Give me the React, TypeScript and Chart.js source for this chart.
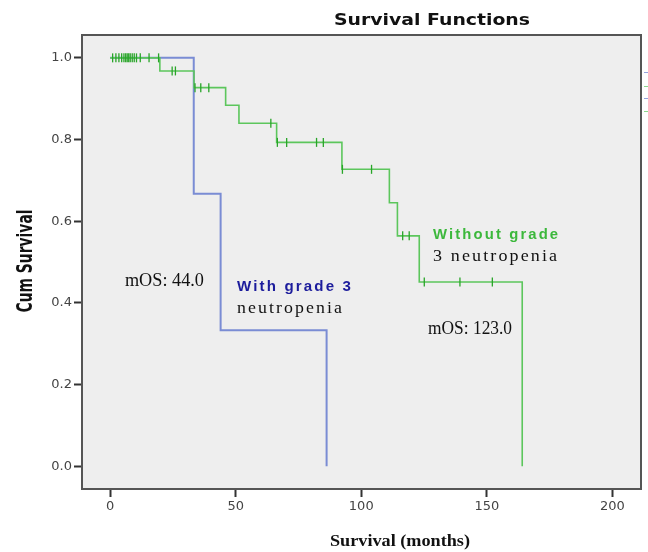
import React, { useEffect, useRef } from "react";
import { Chart, registerables } from "chart.js";

Chart.register(...registerables);

// Kaplan-Meier step data (time in months, cumulative survival after the event)
const blueTimes = [0, 33.3, 44.0, 86.2];
const blueSurv = [1.0, 0.667, 0.333, 0.0];

const greenTimes = [0, 19.8, 33.4, 46.0, 51.3, 66.3, 92.3, 111.2, 114.4, 123.1, 164.1];
const greenSurv = [1.0, 0.968, 0.927, 0.884, 0.84, 0.793, 0.727, 0.645, 0.564, 0.451, 0.0];

// Censored observation times (green group)
const greenCensored = [
  1.0, 2.3, 3.5, 4.6, 5.5, 6.2, 6.8, 7.4, 8.0, 8.8, 9.6, 10.5, 12.0, 15.5, 19.3,
  24.7, 26.0, 33.8, 36.1, 39.3, 64.0, 66.6, 70.3, 82.2, 84.9, 92.5, 104.1,
  116.5, 119.1, 125.1, 139.3, 152.2,
];

const xTicks = [0, 50, 100, 150, 200];
const yTicks = [0.0, 0.2, 0.4, 0.6, 0.8, 1.0];

const chartTitle = "Survival Functions";
const xTitle = "Survival (months)";
const yTitle = "Cum Survival";

function survAt(times: number[], surv: number[], t: number) {
  let s = surv[0];
  for (let i = 0; i < times.length; i++) if (times[i] <= t) s = surv[i];
  return s;
}

function drawFit(
  ctx: CanvasRenderingContext2D,
  text: string,
  x: number,
  y: number,
  width: number,
  font: string,
  color: string,
  align: "left" | "center",
  spacing = 0,
  rotate = 0
) {
  ctx.save();
  ctx.font = font;
  ctx.fillStyle = color;
  (ctx as any).letterSpacing = spacing + "px";
  ctx.textBaseline = "middle";
  ctx.textAlign = align;
  const w = ctx.measureText(text).width - spacing;
  ctx.translate(x, y);
  if (rotate) ctx.rotate(rotate);
  ctx.scale(width / w, 1);
  ctx.fillText(text, 0, 0);
  ctx.restore();
}

const decor = {
  id: "decor",
  beforeDraw(chart: any) {
    const { ctx, chartArea: a } = chart;
    ctx.save();
    ctx.fillStyle = "#ffffff";
    ctx.fillRect(0, 0, chart.width, chart.height);
    ctx.fillStyle = "#eeeeee";
    ctx.fillRect(a.left, a.top, a.right - a.left, a.bottom - a.top);
    ctx.restore();
  },
  afterDraw(chart: any) {
    const { ctx, chartArea: a } = chart;
    const xs = chart.scales.x;
    const ys = chart.scales.y;
    ctx.save();
    ctx.strokeStyle = "#555555";
    ctx.lineWidth = 2;
    ctx.strokeRect(a.left, a.top, a.right - a.left, a.bottom - a.top);
    ctx.restore();

    // clipped legend stubs at right edge
    const stubs: [number, string][] = [
      [72, "rgba(122,140,212,0.8)"],
      [86, "rgba(92,198,92,0.7)"],
      [98, "rgba(122,140,212,0.8)"],
      [111, "rgba(92,198,92,0.7)"],
    ];
    ctx.save();
    ctx.lineWidth = 1;
    stubs.forEach(([yy, c]) => {
      ctx.strokeStyle = c;
      ctx.beginPath();
      ctx.moveTo(a.right + 3, yy + 0.5);
      ctx.lineTo(chart.width, yy + 0.5);
      ctx.stroke();
    });
    ctx.restore();

    drawFit(ctx, chartTitle, 432, 21, 196, 'bold 16px "DejaVu Sans", sans-serif', "#111", "center");
    drawFit(ctx, xTitle, 400, 542, 140, 'bold 17px "Liberation Serif", serif', "#111", "center");
    drawFit(
      ctx, yTitle, 27, 261, 103,
      'bold 21px "Liberation Sans Narrow", "DejaVu Sans Condensed", sans-serif',
      "#111", "center", 0, -Math.PI / 2
    );

    const px = (v: number) => xs.getPixelForValue(v);
    const py = (v: number) => ys.getPixelForValue(v);
    const serif = '18px "Liberation Serif", serif';
    drawFit(ctx, "mOS: 44.0", px(5.9), py(0.453), 79, serif, "#111", "left");
    drawFit(ctx, "With grade 3", px(50.5), py(0.438), 114, 'bold 14px "Liberation Sans", sans-serif', "#1c1c9c", "left", 2);
    drawFit(ctx, "neutropenia", px(50.5), py(0.387), 105, '17px "Liberation Serif", serif', "#111", "left", 2);
    drawFit(ctx, "Without grade", px(128.6), py(0.566), 125, 'bold 14px "Liberation Sans", sans-serif', "#3cb83c", "left", 2);
    drawFit(ctx, "3 neutropenia", px(128.6), py(0.514), 124, '17px "Liberation Serif", serif', "#111", "left", 2);
    drawFit(ctx, "mOS: 123.0", px(126.6), py(0.336), 84, serif, "#111", "left");
  },
};

export default function App() {
  const ref = useRef<HTMLCanvasElement>(null);
  useEffect(() => {
    document.body.style.margin = "0";
    const canvas = ref.current!;
    const toPts = (times: number[], surv: number[]) => times.map((t, i) => ({ x: t, y: surv[i] }));
    const censorPts = greenCensored.map((t) => ({ x: t, y: survAt(greenTimes, greenSurv, t) }));

    const chart = new Chart(canvas, {
      type: "line",
      data: {
        datasets: [
          {
            label: "Without grade 3 neutropenia censored",
            data: censorPts,
            showLine: false,
            pointStyle: "line",
            rotation: 90,
            pointRadius: 4.5,
            pointBorderColor: "rgb(40,165,40)",
            pointBorderWidth: 1.3,
            borderColor: "rgb(40,165,40)",
          } as any,
          {
            label: "Without grade 3 neutropenia",
            data: toPts(greenTimes, greenSurv),
            stepped: "before",
            borderColor: "rgb(92,198,92)",
            borderWidth: 1.6,
            pointRadius: 0,
            fill: false,
          },
          {
            label: "With grade 3 neutropenia",
            data: toPts(blueTimes, blueSurv),
            stepped: "before",
            borderColor: "rgb(122,140,212)",
            borderWidth: 2,
            pointRadius: 0,
            fill: false,
          },
        ],
      },
      options: {
        responsive: false,
        animation: false,
        devicePixelRatio: 1,
        layout: { padding: { top: 35, right: 7, left: 0, bottom: 0 } },
        plugins: { legend: { display: false }, title: { display: false }, tooltip: { enabled: false } },
        scales: {
          x: {
            type: "linear",
            min: -11.2,
            max: 211.4,
            afterFit: (s: any) => { s.height = 63; },
            afterBuildTicks: (s: any) => { s.ticks = xTicks.map((v) => ({ value: v })); },
            border: { display: false },
            grid: { drawOnChartArea: false, drawTicks: true, tickLength: 8, tickColor: "#333", tickWidth: 2 },
            ticks: { padding: 2, color: "#444", font: { family: '"DejaVu Sans", sans-serif', size: 13 } },
          },
          y: {
            type: "linear",
            min: -0.056,
            max: 1.056,
            afterFit: (s: any) => { s.width = 82; },
            afterBuildTicks: (s: any) => { s.ticks = yTicks.map((v) => ({ value: v })); },
            border: { display: false },
            grid: { drawOnChartArea: false, drawTicks: true, tickLength: 8, tickColor: "#333", tickWidth: 2 },
            ticks: {
              padding: 2,
              color: "#444",
              font: { family: '"DejaVu Sans", sans-serif', size: 13 },
              callback: (v: any) => Number(v).toFixed(1),
            },
          },
        },
      },
      plugins: [decor],
    });
    return () => chart.destroy();
  }, []);

  return (
    <div style={{ width: 648, height: 552 }}>
      <canvas ref={ref} width={648} height={552} style={{ width: 648, height: 552, display: "block" }} />
    </div>
  );
}
